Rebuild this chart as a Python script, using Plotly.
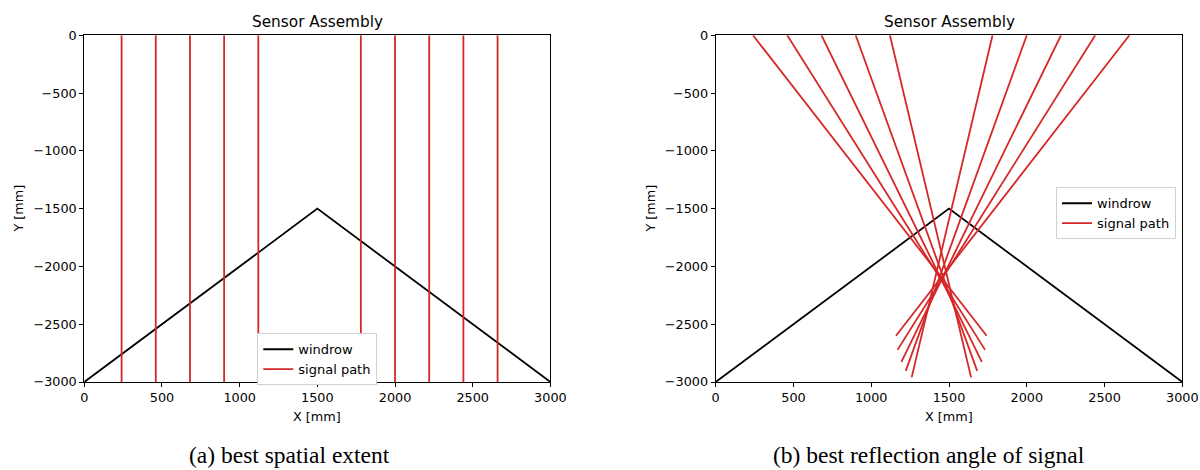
import plotly.graph_objects as go

# Windrow cross-section (triangle)
windrow_x = [0, 1500, 3000]
windrow_y = [-3000, -1500, -3000]

# Sensor positions along the top of the assembly [mm]
sensor_x = [240, 460, 680, 900, 1120, 1780, 2000, 2220, 2440, 2660]
sensor_y = [0, 0, 0, 0, 0, 0, 0, 0, 0, 0]

# (a) vertical signal paths end at the floor
vertical_end_y = [-3000, -3000, -3000, -3000, -3000, -3000, -3000, -3000, -3000, -3000]

# (b) angled signal paths: end points of each ray
angled_end_x = [1742, 1732, 1711, 1681, 1642, 1260, 1222, 1194, 1169, 1159]
angled_end_y = [-2600, -2722, -2826, -2904, -2960, -2960, -2904, -2826, -2722, -2600]

x_ticks = [0, 500, 1000, 1500, 2000, 2500, 3000]
y_ticks = [0, -500, -1000, -1500, -2000, -2500, -3000]

RED = "#d62728"
FONT = "DejaVu Sans"
W, H = 1200, 470


def segments(x0, y0, x1, y1):
    xs, ys = [], []
    for a, b, c, d in zip(x0, y0, x1, y1):
        xs += [a, c, None]
        ys += [b, d, None]
    return xs, ys


fig = go.Figure()

# Left panel
fig.add_trace(go.Scatter(x=windrow_x, y=windrow_y, mode="lines", name="windrow",
                         line=dict(color="black", width=1.8),
                         xaxis="x", yaxis="y", legend="legend"))
lx, ly = segments(sensor_x, sensor_y, sensor_x, vertical_end_y)
fig.add_trace(go.Scatter(x=lx, y=ly, mode="lines", name="signal path",
                         line=dict(color=RED, width=1.8),
                         xaxis="x", yaxis="y", legend="legend"))

# Right panel
fig.add_trace(go.Scatter(x=windrow_x, y=windrow_y, mode="lines", name="windrow",
                         line=dict(color="black", width=1.8),
                         xaxis="x2", yaxis="y2", legend="legend2"))
rx, ry = segments(sensor_x, sensor_y, angled_end_x, angled_end_y)
fig.add_trace(go.Scatter(x=rx, y=ry, mode="lines", name="signal path",
                         line=dict(color=RED, width=1.8),
                         xaxis="x2", yaxis="y2", legend="legend2"))

# Panel geometry in pixels
left_px = (84.3, 550.4)
right_px = (715.7, 1182.3)
top_px, bot_px = 35.3, 382.0

ydom = [1 - bot_px / H, 1 - top_px / H]

axis_common = dict(showgrid=False, zeroline=False, showline=True, mirror=True,
                   linecolor="black", linewidth=1, ticks="outside", ticklen=4,
                   tickwidth=1, tickcolor="black", automargin=False,
                   tickfont=dict(family=FONT, size=12.8, color="black"))

fig.update_layout(
    width=W, height=H,
    margin=dict(l=0, r=0, t=0, b=0),
    paper_bgcolor="white", plot_bgcolor="white",
    xaxis=dict(domain=[left_px[0] / W, left_px[1] / W], range=[0, 3000],
               tickvals=x_ticks, anchor="y", **axis_common),
    yaxis=dict(domain=ydom, range=[-3000, 0], tickvals=y_ticks, anchor="x",
               **axis_common),
    xaxis2=dict(domain=[right_px[0] / W, right_px[1] / W], range=[0, 3000],
                tickvals=x_ticks, anchor="y2", **axis_common),
    yaxis2=dict(domain=ydom, range=[-3000, 0], tickvals=y_ticks, anchor="x2",
                **axis_common),
    legend=dict(x=257.3 / W, y=1 - 333.3 / H, xanchor="left", yanchor="top",
                bgcolor="white", bordercolor="#d0d0d0", borderwidth=1,
                font=dict(family=FONT, size=13, color="black")),
    legend2=dict(x=1056 / W, y=1 - 187.3 / H, xanchor="left", yanchor="top",
                 bgcolor="white", bordercolor="#d0d0d0", borderwidth=1,
                 font=dict(family=FONT, size=13, color="black")),
)

annotations = []
for (x0, x1), ylab_x in [(left_px, 19), (right_px, 651)]:
    cx = (x0 + x1) / 2
    annotations.append(dict(text="Sensor Assembly", x=cx / W, y=1 - 22 / H,
                            xref="paper", yref="paper", showarrow=False,
                            xanchor="center", yanchor="middle",
                            font=dict(family=FONT, size=15.3, color="black")))
    annotations.append(dict(text="X [mm]", x=cx / W, y=1 - 416 / H,
                            xref="paper", yref="paper", showarrow=False,
                            xanchor="center", yanchor="middle",
                            font=dict(family=FONT, size=12.8, color="black")))
    annotations.append(dict(text="Y [mm]", x=ylab_x / W, y=1 - 208.6 / H,
                            xref="paper", yref="paper", showarrow=False,
                            textangle=-90, xanchor="center", yanchor="middle",
                            font=dict(family=FONT, size=12.8, color="black")))

# Sub-figure captions
captions = [("(a) best spatial extent", 289), ("(b) best reflection angle of signal", 929)]
for text, cx in captions:
    annotations.append(dict(text=text, x=cx / W, y=1 - 455 / H,
                            xref="paper", yref="paper", showarrow=False,
                            xanchor="center", yanchor="middle",
                            font=dict(family="Liberation Serif", size=23.5,
                                      color="black")))
fig.update_layout(annotations=annotations)

fig.write_html("out.html")
